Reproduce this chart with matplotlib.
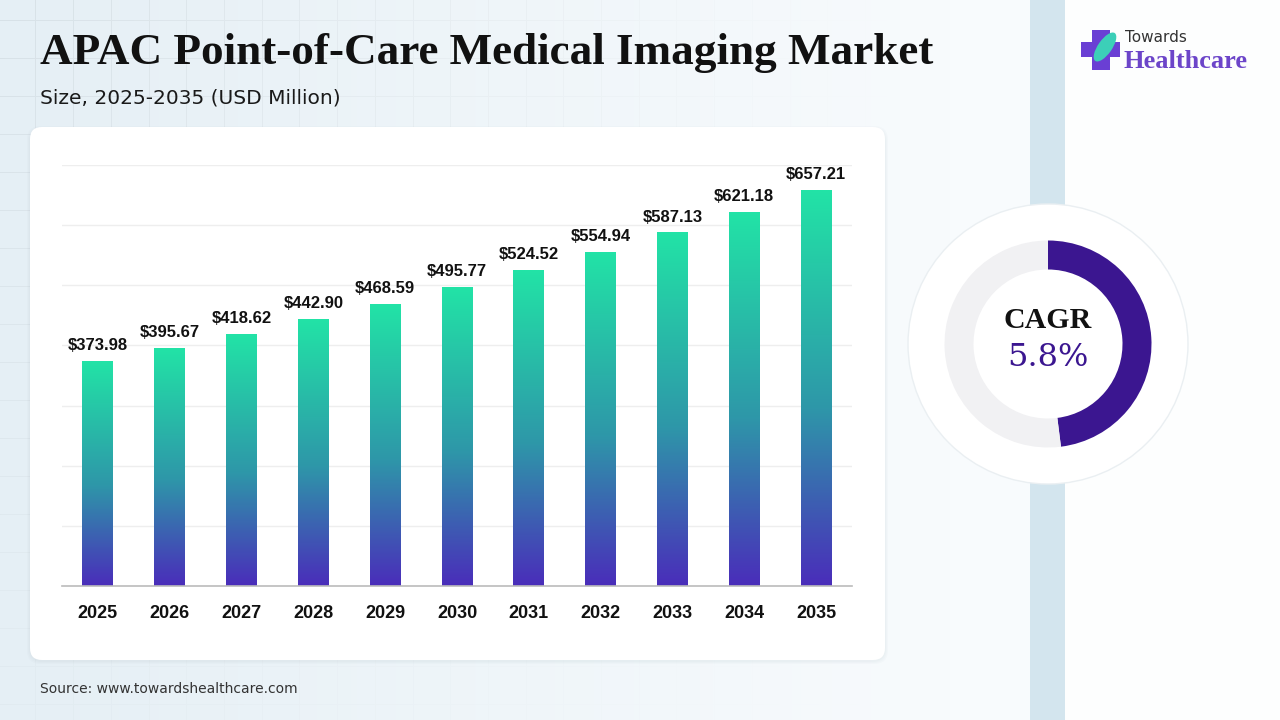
import numpy as np
import matplotlib.pyplot as plt
from matplotlib.patches import FancyBboxPatch, Rectangle, Circle, Ellipse
from matplotlib.colors import LinearSegmentedColormap

years = ['2025', '2026', '2027', '2028', '2029', '2030', '2031', '2032', '2033', '2034', '2035']
values = [373.98, 395.67, 418.62, 442.90, 468.59, 495.77, 524.52, 554.94, 587.13, 621.18, 657.21]
value_labels = ['$373.98', '$395.67', '$418.62', '$442.90', '$468.59', '$495.77',
                '$524.52', '$554.94', '$587.13', '$621.18', '$657.21']
cagr_text = '5.8%'
ring_share = [0.48, 0.52]

title = 'APAC Point-of-Care Medical Imaging Market'
subtitle = 'Size, 2025-2035 (USD Million)'
source = 'Source: www.towardshealthcare.com'

W, H = 1280, 720
fig = plt.figure(figsize=(12.8, 7.2), dpi=100)

# background: light blue grid fading to the right
bg = fig.add_axes([0, 0, 1, 1])
bg.set_xlim(0, W)
bg.set_ylim(H, 0)
bg.axis('off')

xx = np.arange(W)[None, :].repeat(H, 0).astype(float)
yy = np.arange(H)[:, None].repeat(W, 1).astype(float)
t = np.clip(xx / 950.0, 0, 1)
left_c = np.array([229, 239, 245]) / 255
right_c = np.array([248, 251, 253]) / 255
img = left_c[None, None, :] * (1 - t[..., None]) + right_c[None, None, :] * t[..., None]
gx = (np.abs(((xx - 35) % 37.7)) < 1.0)
gy = (np.abs(((yy - 20) % 38.0)) < 1.0)
grid = (gx | gy).astype(float) * np.clip(1 - xx / 900.0, 0, 1) * np.clip(1 - yy / 900.0, 0.3, 1)
img = img - grid[..., None] * 0.055
bg.imshow(np.clip(img, 0, 1), extent=(0, W, H, 0), aspect='auto', zorder=0)

# right strip and panel
bg.add_patch(Rectangle((1030, 0), 35, H, facecolor='#D3E5EE', edgecolor='none', zorder=1))
bg.add_patch(Rectangle((1065, 0), W - 1065, H, facecolor='#FDFEFE', edgecolor='none', zorder=1))

# card with soft shadow
for i, a in enumerate([0.03, 0.03, 0.03]):
    bg.add_patch(FancyBboxPatch((30 - i - 1, 127 - i + 1), 855 + 2 * i + 2, 533 + 2 * i + 1,
                                boxstyle='round,pad=0,rounding_size=14',
                                facecolor='#8899AA', alpha=a, edgecolor='none', zorder=2))
bg.add_patch(FancyBboxPatch((30, 127), 855, 533, boxstyle='round,pad=0,rounding_size=12',
                            facecolor='white', edgecolor='none', zorder=3))

# titles
bg.text(40, 53, title, fontsize=32.5, fontweight='bold', family='Liberation Serif',
        color='#111111', va='center', ha='left', zorder=5)
bg.text(40, 98, subtitle, fontsize=14.5, family='DejaVu Sans', color='#1a1a1a',
        va='center', ha='left', zorder=5)
bg.text(40, 689, source, fontsize=10, family='DejaVu Sans', color='#333333',
        va='center', ha='left', zorder=5)

# logo
bg.add_patch(Rectangle((1092, 30), 18, 40, facecolor='#6A3FD4', edgecolor='none', zorder=5))
bg.add_patch(Rectangle((1081, 42), 39, 15, facecolor='#6A3FD4', edgecolor='none', zorder=5))
bg.add_patch(Ellipse((1105, 47), 14, 34, angle=35, facecolor='#3CCFB8', edgecolor='none', zorder=6))
bg.text(1125, 38, 'Towards', fontsize=11, family='DejaVu Sans', color='#333333',
        va='center', ha='left', zorder=5)
bg.text(1124, 62, 'Healthcare', fontsize=19, fontweight='bold', family='Liberation Serif',
        color='#6C45C9', va='center', ha='left', zorder=5)

# bar chart
ax = fig.add_axes([62 / W, (H - 586) / H, (852 - 62) / W, (586 - 165) / H])
ax.set_facecolor('none')
for s in ['top', 'right', 'left']:
    ax.spines[s].set_visible(False)
ax.spines['bottom'].set_color('#BBBBBB')
ax.spines['bottom'].set_linewidth(1.2)
ax.set_yticks(np.arange(100, 701, 100))
ax.yaxis.grid(True, color='#EEEEEE', linewidth=1)
ax.set_axisbelow(True)
ax.tick_params(axis='y', left=False, labelleft=False)
ax.tick_params(axis='x', length=0, pad=14)

cmap = LinearSegmentedColormap.from_list('barg', [(0, '#4A2DBA'), (0.45, '#2E97A9'), (1, '#22E3A6')])
grad = np.linspace(0, 1, 256)[:, None]
bw = 0.43
x = np.arange(len(years))
bars = ax.bar(x, values, width=bw, color='none', edgecolor='none')
for b, v, lab in zip(bars, values, value_labels):
    x0 = b.get_x()
    ax.imshow(grad, extent=(x0, x0 + bw, 0, v), origin='lower', cmap=cmap, aspect='auto', zorder=2)
    ax.annotate(lab, (x0 + bw / 2, v), xytext=(0, 6), textcoords='offset points',
                ha='center', va='bottom', fontsize=12, fontweight='bold',
                family='Liberation Sans', color='#111111')
ax.set_xlim(-0.5, len(years) - 0.5)
ax.set_ylim(0, 700)
ax.set_xticks(x)
ax.set_xticklabels(years, fontsize=13, fontweight='bold', family='Liberation Sans', color='#111111')

# CAGR donut
cx, cy = 1048, 344
dax = fig.add_axes([(cx - 150) / W, (H - cy - 150) / H, 300 / W, 300 / H])
dax.add_patch(Circle((0, 0), 140, facecolor='white', edgecolor='#EAEFF2', linewidth=1, zorder=0))
dax.pie(ring_share, radius=103.5, startangle=90, counterclock=False,
        colors=['#3B1690', '#F1F1F3'], wedgeprops=dict(width=29, edgecolor='none'))
dax.set_xlim(-150, 150)
dax.set_ylim(-150, 150)
dax.set_aspect('equal')
dax.axis('off')
dax.text(0, 24, 'CAGR', fontsize=21.5, fontweight='bold', family='Liberation Serif',
         color='#111111', ha='center', va='center')
dax.text(0, -14, cagr_text, fontsize=23, family='DejaVu Serif',
         color='#3B1690', ha='center', va='center')

fig.savefig('out.png', dpi=100)
